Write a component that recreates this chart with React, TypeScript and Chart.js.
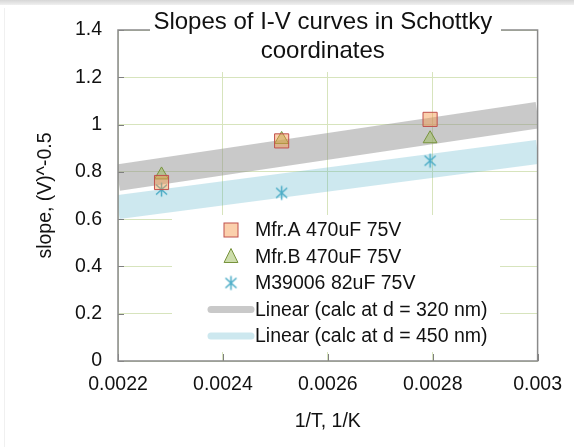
import React, { useEffect, useRef } from 'react';
import { Chart, registerables } from 'chart.js';

Chart.register(...registerables);

// ---- data ----
const titleLines = ['Slopes of I-V curves in Schottky', 'coordinates'];
const xAxisTitle = '1/T, 1/K';
const yAxisTitle = 'slope, (V)^-0.5';
const xTickValues = [0.0022, 0.0024, 0.0026, 0.0028, 0.003];
const xTickLabels = ['0.0022', '0.0024', '0.0026', '0.0028', '0.003'];
const yTickValues = [0, 0.2, 0.4, 0.6, 0.8, 1.0, 1.2, 1.4];
const yTickLabels = ['0', '0.2', '0.4', '0.6', '0.8', '1', '1.2', '1.4'];

const invT = [0.002283, 0.002512, 0.002795];
const mfrA = [0.755, 0.931, 1.022];
const mfrB = [0.787, 0.937, 0.94];
const m39006 = [0.725, 0.711, 0.847];

const fitX = [0.0022, 0.003];
const fit320 = [0.775, 1.04];
const fit450 = [0.651, 0.884];

const seriesLabels = [
  'Mfr.A 470uF 75V',
  'Mfr.B 470uF 75V',
  'M39006 82uF 75V',
  'Linear (calc at d = 320 nm)',
  'Linear (calc at d = 450 nm)',
];

const FONT = '"Liberation Sans", Arial, Helvetica, sans-serif';
const colA = '#c0504d';
const fillA = 'rgba(247,150,70,0.45)';
const colB = '#77933c';
const fillB = 'rgba(155,187,89,0.5)';
const colM = '#4bacc6';
const band320 = 'rgba(140,140,140,0.47)';
const band450 = 'rgba(75,172,198,0.28)';

function makeAsterisk(): HTMLCanvasElement {
  const c = document.createElement('canvas');
  c.width = 17;
  c.height = 17;
  const g = c.getContext('2d')!;
  g.strokeStyle = colM;
  g.lineWidth = 1.5;
  g.beginPath();
  g.moveTo(3, 3.5); g.lineTo(14, 13.5);
  g.moveTo(14, 3.5); g.lineTo(3, 13.5);
  g.moveTo(8.5, 1.5); g.lineTo(8.5, 15.5);
  g.stroke();
  return c;
}

export default function App() {
  const ref = useRef<HTMLCanvasElement>(null);

  useEffect(() => {
    const asterisk = makeAsterisk();
    const pts = (ys: number[]) => invT.map((x, i) => ({ x, y: ys[i] }));
    const fit = (ys: number[]) => fitX.map((x, i) => ({ x, y: ys[i] }));

    const decor = {
      id: 'decor',
      afterDraw(chart: any) {
        const { ctx, chartArea: a } = chart;
        const xs = chart.scales.x;
        const ys = chart.scales.y;
        ctx.save();
        // inward tick marks
        ctx.strokeStyle = '#7f7f7f';
        ctx.lineWidth = 1;
        ctx.beginPath();
        ys.ticks.forEach((t: any) => {
          const p = Math.round(ys.getPixelForValue(t.value)) + 0.5;
          ctx.moveTo(a.left, p); ctx.lineTo(a.left + 6, p);
        });
        xs.ticks.forEach((t: any) => {
          const p = Math.round(xs.getPixelForValue(t.value)) + 0.5;
          ctx.moveTo(p, a.bottom - 7); ctx.lineTo(p, a.bottom);
        });
        ctx.stroke();
        // plot border
        ctx.strokeStyle = '#8a8a8a';
        ctx.lineWidth = 1.5;
        ctx.strokeRect(a.left, a.top, a.right - a.left, a.bottom - a.top);

        // legend
        const lx = 172, ly = 215, lw = 328, lh = 137;
        ctx.fillStyle = '#fff';
        ctx.fillRect(lx, ly, lw, lh);
        const mx = 231;
        const textX = 255;
        const rowY = [230, 256.5, 283, 309.5, 336];
        // square
        ctx.fillStyle = '#fff';
        ctx.fillRect(mx - 7, rowY[0] - 7, 14, 14);
        ctx.fillStyle = fillA;
        ctx.fillRect(mx - 7, rowY[0] - 7, 14, 14);
        ctx.strokeStyle = colA;
        ctx.lineWidth = 1;
        ctx.strokeRect(mx - 7, rowY[0] - 7, 14, 14);
        // triangle
        const r = 8;
        ctx.beginPath();
        ctx.moveTo(mx, rowY[1] - r * 0.75 - 2);
        ctx.lineTo(mx + r * 0.866, rowY[1] + r * 0.75 - 2 + 2);
        ctx.lineTo(mx - r * 0.866, rowY[1] + r * 0.75 - 2 + 2);
        ctx.closePath();
        ctx.fillStyle = fillB;
        ctx.fill();
        ctx.strokeStyle = colB;
        ctx.stroke();
        // asterisk
        ctx.drawImage(asterisk, mx - 8.5, rowY[2] - 8.5);
        // line swatches
        ctx.lineCap = 'round';
        ctx.lineWidth = 7;
        ctx.strokeStyle = band320;
        ctx.beginPath(); ctx.moveTo(211, rowY[3]); ctx.lineTo(251, rowY[3]); ctx.stroke();
        ctx.strokeStyle = band450;
        ctx.beginPath(); ctx.moveTo(211, rowY[4]); ctx.lineTo(251, rowY[4]); ctx.stroke();
        // legend text
        ctx.fillStyle = '#111';
        ctx.font = `19.5px ${FONT}`;
        ctx.textAlign = 'left';
        ctx.textBaseline = 'middle';
        seriesLabels.forEach((s, i) => ctx.fillText(s, textX, rowY[i] + 1));

        // title
        ctx.fillStyle = '#fff';
        ctx.fillRect(150, 6, 351, 66);
        ctx.fillStyle = '#111';
        ctx.font = `24px ${FONT}`;
        ctx.textAlign = 'center';
        ctx.textBaseline = 'alphabetic';
        const cx = (a.left + a.right) / 2 - 5;
        ctx.fillText(titleLines[0], cx, 29);
        ctx.fillText(titleLines[1], cx, 58);
        ctx.restore();
      },
    };

    const chart = new Chart(ref.current!, {
      type: 'scatter',
      data: {
        datasets: [
          {
            label: seriesLabels[0],
            data: pts(mfrA),
            pointStyle: 'rect',
            pointRadius: 10,
            pointHoverRadius: 10,
            backgroundColor: fillA,
            borderColor: colA,
            borderWidth: 1,
            showLine: false,
          },
          {
            label: seriesLabels[1],
            data: pts(mfrB),
            pointStyle: 'triangle',
            pointRadius: 8,
            pointHoverRadius: 8,
            backgroundColor: fillB,
            borderColor: colB,
            borderWidth: 1,
            showLine: false,
          },
          {
            label: seriesLabels[2],
            data: pts(m39006),
            pointStyle: asterisk as any,
            pointRadius: 8,
            backgroundColor: colM,
            borderColor: colM,
            showLine: false,
          },
          {
            label: seriesLabels[3],
            data: fit(fit320),
            showLine: true,
            borderColor: band320,
            backgroundColor: band320,
            borderWidth: 26.5,
            borderCapStyle: 'butt',
            pointRadius: 0,
            pointHoverRadius: 0,
          },
          {
            label: seriesLabels[4],
            data: fit(fit450),
            showLine: true,
            borderColor: band450,
            backgroundColor: band450,
            borderWidth: 24,
            borderCapStyle: 'butt',
            pointRadius: 0,
            pointHoverRadius: 0,
          },
        ],
      },
      options: {
        responsive: false,
        animation: false,
        events: [],
        layout: { padding: { left: 30, right: 31, top: 30, bottom: 10 } },
        plugins: {
          legend: { display: false },
          title: { display: false },
          tooltip: { enabled: false },
        },
        scales: {
          x: {
            type: 'linear',
            min: 0.0022,
            max: 0.003,
            afterBuildTicks: (s: any) => { s.ticks = xTickValues.map((v) => ({ value: v })); },
            afterFit: (s: any) => { s.height = 76; },
            ticks: {
              callback: (_v: any, i: number) => xTickLabels[i],
              font: { family: FONT, size: 19.5 },
              color: '#111',
              padding: 12,
              maxRotation: 0,
              autoSkip: false,
            },
            grid: { color: '#d7e4bd', lineWidth: 1, drawTicks: false },
            border: { display: false },
            title: {
              display: true,
              text: xAxisTitle,
              font: { family: FONT, size: 19.5 },
              color: '#111',
            },
          },
          y: {
            type: 'linear',
            min: 0,
            max: 1.4,
            afterBuildTicks: (s: any) => { s.ticks = yTickValues.map((v) => ({ value: v })); },
            afterFit: (s: any) => { s.width = 88; },
            ticks: {
              callback: (_v: any, i: number) => yTickLabels[i],
              font: { family: FONT, size: 19.5 },
              color: '#111',
              padding: 16,
              autoSkip: false,
            },
            grid: { color: '#d7e4bd', lineWidth: 1, drawTicks: false },
            border: { display: false },
            title: {
              display: true,
              text: yAxisTitle,
              font: { family: FONT, size: 19.5 },
              color: '#111',
            },
          },
        },
      },
      plugins: [decor],
    } as any);
    return () => chart.destroy();
  }, []);

  return (
    <div style={{ position: 'fixed', left: 0, top: 0, width: 574, height: 447, background: '#fff', overflow: 'hidden' }}>
      <div style={{ position: 'absolute', left: 0, top: 0, width: 574, height: 5, background: 'linear-gradient(#d6d6d6, #f0f0f0)' }} />
      <div style={{ position: 'absolute', left: 4, top: 8, width: 1, height: 439, background: '#f0f0f0' }} />
      <canvas ref={ref} width={574} height={447} style={{ position: 'absolute', left: 0, top: 0, width: 574, height: 447 }} />
    </div>
  );
}
